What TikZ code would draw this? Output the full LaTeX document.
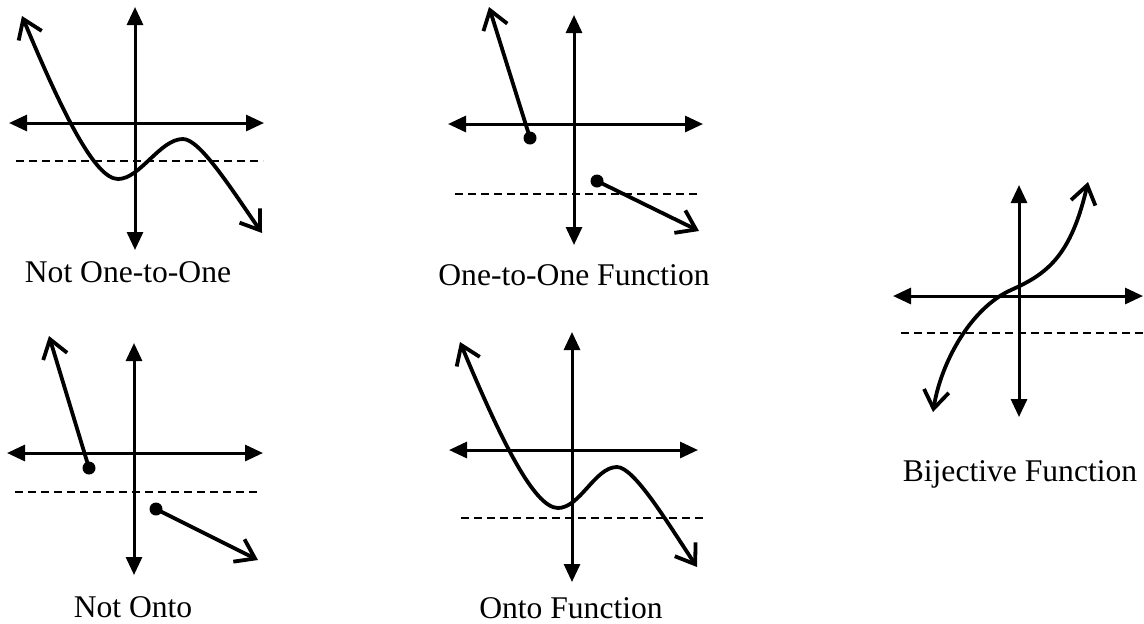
\documentclass[tikz,border=0pt]{standalone}
\usepackage{fontspec}
\setmainfont{Liberation Serif}
\usetikzlibrary{arrows.meta}

\begin{document}
\begin{tikzpicture}[
  x=0.5pt, y=-0.5pt,
  axis/.style={line width=1.5pt, {Triangle[length=9pt,width=8pt]}-{Triangle[length=9pt,width=8pt]}},
  curve/.style={line width=1.9pt, line cap=round, line join=round, {Straight Barb[length=9pt,width=12.5pt]}-{Straight Barb[length=9pt,width=12.5pt]}},
  ray/.style={line width=1.9pt, line cap=round, -{Straight Barb[length=9pt,width=12.5pt]}},
  guide/.style={line width=0.9pt, dash pattern=on 4pt off 2.5pt},
  dot/.style={circle, fill, inner sep=0pt, minimum size=6.5pt},
  lbl/.style={anchor=base, font=\fontsize{15.8}{19}\selectfont}
]
\useasboundingbox (0,0) rectangle (1144,623);

% not one-to-one
\begin{scope}[shift={(135,123)}]
\draw[axis] (0,-116) -- (0,127);
\draw[axis] (-126,0) -- (129,0);
\draw[guide] (-119,38) -- (128,38);
\draw[curve] (-113,-107) .. controls (-73,-11) and (-40,56) .. (-17,56)
  .. controls (5,56) and (25,16) .. (48,16) .. controls (65,16) and (97,67) .. (127,110);
\end{scope}
\node[lbl] (noneone) at (128,282) {Not One-to-One};

% one-to-one
\begin{scope}[shift={(574,124)}]
\draw[axis] (0,-109) -- (0,121);
\draw[axis] (-126,0) -- (129,0);
\draw[guide] (-119,70) -- (123,70);
\node[dot] (oa) at (-44,14) {};
\node[dot] (ob) at (23,57) {};
\coordinate (oat) at (-85,-117);
\coordinate (obt) at (125,107);
\draw[ray] (oa.center) -- (oat);
\draw[ray] (ob.center) -- (obt);
\end{scope}
\node[lbl] (oneone) at (574,285) {One-to-One Function};

% not onto
\begin{scope}[shift={(134,453)}]
\draw[axis] (0,-110) -- (0,122);
\draw[axis] (-127,0) -- (129,0);
\draw[guide] (-119,39) -- (123,39);
\node[dot] (na) at (-45,15) {};
\node[dot] (nb) at (22,56) {};
\coordinate (nat) at (-85,-117);
\coordinate (nbt) at (124,107);
\draw[ray] (na.center) -- (nat);
\draw[ray] (nb.center) -- (nbt);
\end{scope}
\node[lbl] (nonto) at (133,617) {Not Onto};

% onto
\begin{scope}[shift={(572,450)}]
\draw[axis] (0,-118) -- (0,132);
\draw[axis] (-123,0) -- (126,0);
\draw[guide] (-111,68) -- (131,68);
\draw[curve] (-112,-108) .. controls (-72,-12) and (-38,58) .. (-14,58)
  .. controls (8,58) and (23,17) .. (45,17) .. controls (62,17) and (95,72) .. (125,117);
\end{scope}
\node[lbl] (onto) at (571,618) {Onto Function};

% bijective
\begin{scope}[shift={(1019,296)}]
\draw[axis] (0,-111) -- (0,121);
\draw[axis] (-126,0) -- (124,0);
\draw[guide] (-118,37) -- (125,37);
\draw[curve] (-86,116) .. controls (-78,66) and (-48,12) .. (-8,-6)
  .. controls (28,-22) and (52,-40) .. (69,-114);
\end{scope}
\node[lbl] (bij) at (1020,481) {Bijective Function};
\end{tikzpicture}
\end{document}
